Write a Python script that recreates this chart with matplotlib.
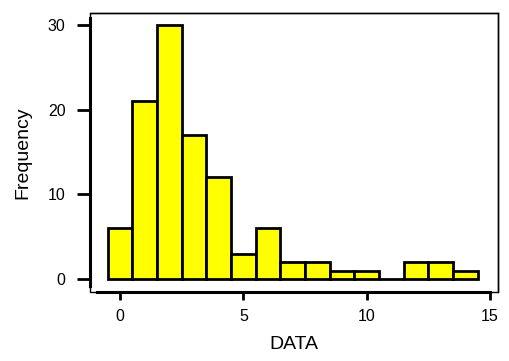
import matplotlib
matplotlib.use("Agg")
import matplotlib.pyplot as plt
from matplotlib.patches import Rectangle

bin_centers = [0, 1, 2, 3, 4, 5, 6, 7, 8, 9, 10, 11, 12, 13, 14]
frequency = [6, 21, 30, 17, 12, 3, 6, 2, 2, 1, 1, 0, 2, 2, 1]
x_ticks = [0, 5, 10, 15]
y_ticks = [0, 10, 20, 30]

plt.rcParams['font.family'] = ['Liberation Sans', 'DejaVu Sans']

W, H = 509, 361
fig = plt.figure(figsize=(W / 100, H / 100), dpi=100)
L, R, T, B = 90, 498, 13, 292
ax = fig.add_axes([L / W, (H - B) / H, (R - L) / W, (B - T) / H])

ax.bar(bin_centers, frequency, width=1.0, color='#FFFF00', edgecolor='black',
       linewidth=2, align='center', zorder=2)

ax.set_xlim(-1.216, 15.32)
ax.set_ylim(-1.535, 31.42)

for s in ['top', 'right']:
    ax.spines[s].set_linewidth(1.0)
ax.spines['left'].set_linewidth(2.2)
ax.spines['bottom'].set_linewidth(2.2)
ax.spines['left'].set_bounds(-0.8, 30.8)
ax.spines['bottom'].set_bounds(-0.93, 15)
ax.add_patch(Rectangle((0, 0), 1, 1, transform=ax.transAxes, fill=False,
                       edgecolor='black', linewidth=1.0, clip_on=False, zorder=1))

ax.set_xticks(x_ticks)
ax.set_yticks(y_ticks)
ax.tick_params(axis='y', direction='out', length=9.5, width=2, labelsize=11.5, pad=8)
ax.tick_params(axis='x', direction='out', length=6, width=2, labelsize=11.5, pad=6)

ax.set_xlabel('DATA', fontsize=14, labelpad=9)
ax.set_ylabel('Frequency', fontsize=14, labelpad=12)

fig.savefig('out.png', dpi=100)
